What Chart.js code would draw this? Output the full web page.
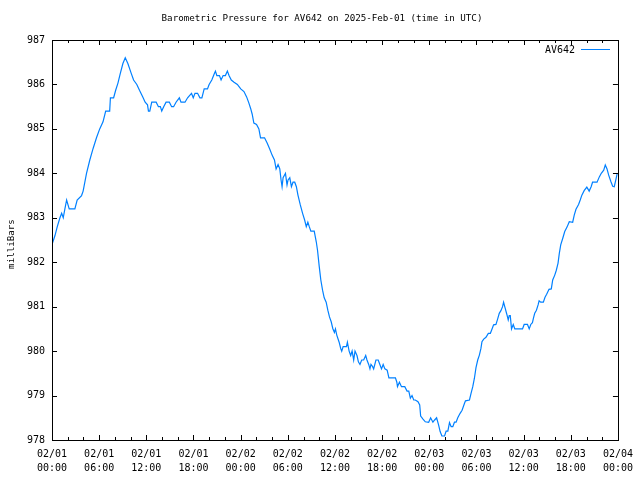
<!DOCTYPE html>
<html>
<head>
<meta charset="utf-8">
<script src="https://cdn.jsdelivr.net/npm/chart.js@4"></script>
<style>
  html, body { margin: 0; padding: 0; background: #fff; }
  #wrap { width: 640px; height: 480px; }
</style>
</head>
<body>
<div id="wrap"><canvas id="chart" width="640" height="480"></canvas></div>
<script>
// hours since 02/01 00:00 UTC
const hours = [
  0.0, 0.38, 0.67, 1.01, 1.23, 1.43, 1.64, 1.86, 2.19, 2.91, 3.20, 3.76, 3.96, 4.39, 4.81, 5.23, 5.66, 6.07, 6.49, 6.83,
  7.34, 7.43, 7.84, 8.10, 8.39, 8.69, 9.02, 9.32, 9.65, 10.08, 10.38, 10.79, 11.13, 11.55, 11.85, 12.15, 12.27, 12.44, 12.69, 13.25,
  13.54, 13.79, 13.96, 14.21, 14.51, 14.93, 15.22, 15.47, 15.78, 16.20, 16.41, 16.92, 17.25, 17.55, 17.75, 17.97, 18.19, 18.52, 18.82, 19.07,
  19.36, 19.78, 19.99, 20.33, 20.62, 20.79, 20.97, 21.30, 21.51, 21.77, 22.06, 22.31, 22.52, 22.81, 23.16, 23.58, 24.01, 24.42, 24.76, 25.05,
  25.27, 25.47, 25.68, 26.02, 26.32, 26.53, 27.04, 27.37, 27.71, 28.00, 28.30, 28.51, 28.76, 28.98, 29.14, 29.27, 29.40, 29.70, 29.90, 30.03,
  30.25, 30.46, 30.66, 30.88, 31.09, 31.29, 31.59, 31.88, 32.14, 32.35, 32.55, 32.73, 32.93, 33.36, 33.62, 33.78, 34.00, 34.20, 34.42, 34.63,
  34.88, 35.09, 35.30, 35.52, 35.72, 35.93, 36.06, 36.23, 36.53, 36.73, 36.86, 37.04, 37.46, 37.58, 37.80, 38.00, 38.18, 38.38, 38.55, 38.80,
  38.98, 39.18, 39.40, 39.65, 39.91, 40.07, 40.29, 40.45, 40.58, 40.79, 40.92, 41.21, 41.50, 41.71, 41.92, 42.13, 42.35, 42.64, 42.86, 43.19,
  43.69, 43.87, 43.95, 44.20, 44.46, 44.88, 45.17, 45.39, 45.59, 45.80, 46.02, 46.22, 46.56, 46.78, 46.90, 47.20, 47.49, 47.92, 48.17, 48.46,
  48.68, 48.93, 49.18, 49.38, 49.60, 49.94, 50.14, 50.36, 50.57, 50.78, 50.99, 51.20, 51.41, 51.62, 51.92, 52.17, 52.47, 52.60, 53.11, 53.31,
  53.53, 53.74, 53.94, 54.16, 54.37, 54.57, 54.70, 54.92, 55.21, 55.51, 55.77, 55.97, 56.18, 56.48, 56.69, 56.90, 57.11, 57.32, 57.45, 57.66,
  57.86, 58.04, 58.17, 58.30, 58.46, 58.68, 58.88, 59.10, 59.65, 59.86, 60.07, 60.49, 60.71, 60.91, 61.12, 61.25, 61.41, 61.63, 61.84, 61.97,
  62.17, 62.51, 62.72, 62.93, 63.23, 63.52, 63.70, 63.96, 64.16, 64.38, 64.54, 64.72, 64.98, 65.23, 65.52, 65.81, 66.24, 66.44, 66.66, 66.99,
  67.20, 67.41, 67.70, 68.04, 68.34, 68.59, 68.77, 69.34, 69.63, 69.88, 70.19, 70.39, 70.61, 70.82, 71.11, 71.33, 71.53, 71.75, 71.91, 72.0
];

// pressure in milliBars
const pressure = [
  982.4, 982.6, 982.8, 983.0, 983.1, 983.0, 983.2, 983.4, 983.2, 983.2, 983.4, 983.5, 983.6, 984.0, 984.3, 984.56, 984.8, 985.0, 985.16, 985.4,
  985.4, 985.7, 985.7, 985.87, 986.03, 986.25, 986.47, 986.6, 986.47, 986.25, 986.1, 986.0, 985.87, 985.72, 985.6, 985.54, 985.4, 985.4, 985.6, 985.6,
  985.5, 985.5, 985.4, 985.5, 985.6, 985.6, 985.5, 985.5, 985.6, 985.7, 985.6, 985.6, 985.7, 985.76, 985.8, 985.7, 985.8, 985.8, 985.7, 985.7,
  985.9, 985.9, 986.0, 986.1, 986.23, 986.3, 986.2, 986.2, 986.1, 986.2, 986.2, 986.3, 986.2, 986.1, 986.05, 986.0, 985.9, 985.84, 985.72, 985.58,
  985.46, 985.33, 985.13, 985.1, 985.0, 984.8, 984.8, 984.68, 984.54, 984.41, 984.3, 984.1, 984.2, 984.1, 983.85, 983.7, 983.9, 984.0, 983.74, 983.85,
  983.9, 983.7, 983.8, 983.8, 983.7, 983.51, 983.29, 983.1, 982.95, 982.8, 982.9, 982.8, 982.7, 982.7, 982.46, 982.27, 981.9, 981.6, 981.37, 981.2,
  981.1, 980.92, 980.77, 980.66, 980.51, 980.42, 980.5, 980.36, 980.2, 980.06, 980.0, 980.1, 980.1, 980.2, 980.0, 979.9, 980.0, 979.8, 980.0, 979.9,
  979.76, 979.7, 979.8, 979.8, 979.9, 979.8, 979.7, 979.6, 979.7, 979.65, 979.6, 979.8, 979.8, 979.7, 979.6, 979.7, 979.6, 979.57, 979.4, 979.4,
  979.4, 979.3, 979.2, 979.3, 979.2, 979.2, 979.1, 979.1, 978.94, 979.0, 978.9, 978.9, 978.86, 978.79, 978.54, 978.47, 978.41, 978.4, 978.5, 978.4,
  978.45, 978.5, 978.34, 978.19, 978.09, 978.09, 978.2, 978.2, 978.39, 978.3, 978.3, 978.4, 978.4, 978.5, 978.6, 978.67, 978.82, 978.88, 978.9, 979.05,
  979.2, 979.39, 979.63, 979.8, 979.91, 980.06, 980.21, 980.27, 980.31, 980.4, 980.4, 980.49, 980.59, 980.6, 980.72, 980.85, 980.91, 981.0, 981.1, 980.96,
  980.83, 980.7, 980.8, 980.8, 980.5, 980.6, 980.5, 980.5, 980.5, 980.5, 980.6, 980.6, 980.5, 980.6, 980.64, 980.74, 980.85, 980.92, 981.04, 981.13,
  981.1, 981.1, 981.21, 981.28, 981.39, 981.4, 981.6, 981.71, 981.82, 981.98, 982.2, 982.39, 982.54, 982.69, 982.79, 982.91, 982.9, 983.06, 983.19, 983.3,
  983.4, 983.51, 983.61, 983.69, 983.6, 983.7, 983.8, 983.8, 983.92, 984.0, 984.07, 984.19, 984.1, 983.96, 983.81, 983.71, 983.7, 983.87, 984.0, 984.0
];

const dayLabels = ['02/01', '02/02', '02/03', '02/04'];
const seriesName = 'AV642';
const titleText = 'Barometric Pressure for AV642 on 2025-Feb-01 (time in UTC)';
const yTitle = 'milliBars';

const FONT = '"DejaVu Sans Mono", "Liberation Mono", monospace';
const lineColor = 'rgb(0,128,255)';

function hourLabel(h) {
  const day = Math.floor(h / 24);
  const hh = String(h % 24).padStart(2, '0');
  return [dayLabels[day], hh + ':00'];
}

// frame, inward ticks on all four sides, title, y label and key
const gnuplotFrame = {
  id: 'gnuplotFrame',
  afterDraw(chart) {
    const ctx = chart.ctx;
    const a = chart.chartArea;
    const xs = chart.scales.x, ys = chart.scales.y;
    ctx.save();
    ctx.strokeStyle = '#000';
    ctx.lineWidth = 1;
    ctx.beginPath();
    for (let h = 0; h <= 72; h += 2) {
      const px = Math.round(xs.getPixelForValue(h)) + 0.5;
      const len = h % 6 === 0 ? 5 : 3;
      ctx.moveTo(px, a.bottom); ctx.lineTo(px, a.bottom - len);
      ctx.moveTo(px, a.top); ctx.lineTo(px, a.top + len);
    }
    for (let v = 978; v <= 987; v++) {
      const py = Math.round(ys.getPixelForValue(v)) + 0.5;
      ctx.moveTo(a.left, py); ctx.lineTo(a.left + 5, py);
      ctx.moveTo(a.right, py); ctx.lineTo(a.right - 5, py);
    }
    ctx.stroke();
    ctx.strokeRect(Math.round(a.left) + 0.5, Math.round(a.top) + 0.5,
      Math.round(a.right - a.left), Math.round(a.bottom - a.top));

    ctx.fillStyle = '#000';
    ctx.font = '9.2px ' + FONT;
    ctx.textAlign = 'center';
    ctx.textBaseline = 'middle';
    ctx.fillText(titleText, 322, 19);

    ctx.save();
    ctx.translate(12, 244);
    ctx.rotate(-Math.PI / 2);
    ctx.fillText(yTitle, 0, 0);
    ctx.restore();

    ctx.font = '10px ' + FONT;
    ctx.textAlign = 'right';
    ctx.fillText(seriesName, 575, 50);
    ctx.strokeStyle = lineColor;
    ctx.beginPath();
    ctx.moveTo(581, 49.5); ctx.lineTo(610, 49.5);
    ctx.stroke();
    ctx.restore();
  }
};

new Chart(document.getElementById('chart'), {
  type: 'line',
  data: {
    datasets: [{
      label: seriesName,
      data: hours.map((h, i) => ({ x: h, y: pressure[i] })),
      borderColor: lineColor,
      borderWidth: 1.2,
      pointRadius: 0,
      tension: 0,
      fill: false
    }]
  },
  options: {
    responsive: false,
    animation: false,
    layout: { padding: { top: 40, right: 19, left: 0, bottom: 0 } },
    plugins: { legend: { display: false }, title: { display: false }, tooltip: { enabled: false } },
    scales: {
      x: {
        type: 'linear',
        min: 0, max: 72,
        grid: { display: false, drawTicks: false },
        border: { display: false },
        ticks: {
          stepSize: 6,
          autoSkip: false,
          maxRotation: 0,
          padding: 7,
          color: '#000',
          font: { family: FONT, size: 10, lineHeight: 1.4 },
          callback: v => hourLabel(v)
        },
        afterFit: s => { s.height = 40; }
      },
      y: {
        min: 978, max: 987,
        grid: { display: false, drawTicks: false },
        border: { display: false },
        ticks: {
          stepSize: 1,
          padding: 7,
          color: '#000',
          font: { family: FONT, size: 10 }
        },
        afterFit: s => { s.width = 52; }
      }
    }
  },
  plugins: [gnuplotFrame]
});
</script>
</body>
</html>
